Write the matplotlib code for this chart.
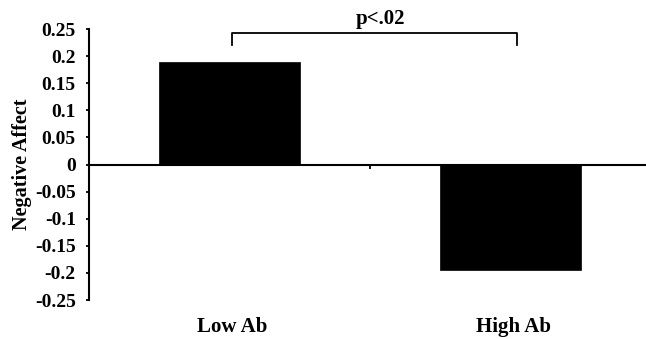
import matplotlib
matplotlib.use("Agg")
import matplotlib.pyplot as plt
import matplotlib.transforms as mtransforms

groups = ["Low Ab", "High Ab"]
neg_affect = [0.19, -0.195]
yticks = [0.25, 0.2, 0.15, 0.1, 0.05, 0, -0.05, -0.1, -0.15, -0.2, -0.25]
ytick_labels = ["0.25", "0.2", "0.15", "0.1", "0.05", "0", "-0.05", "-0.1", "-0.15", "-0.2", "-0.25"]
sig_text = "p<.02"

plt.rcParams['font.family'] = ['Liberation Serif', 'DejaVu Serif']
plt.rcParams['font.weight'] = 'bold'

fig = plt.figure(figsize=(6.46, 3.39), dpi=100)
ax = fig.add_axes([0.1378, 0.115, 0.8622, 0.7994])

x = list(range(len(groups)))
ax.bar(x, neg_affect, width=0.5, color='black', edgecolor='black', linewidth=0.5)

ax.set_xlim(-0.5, 1.482)
ax.set_ylim(-0.25, 0.25)

ax.spines['top'].set_visible(False)
ax.spines['right'].set_visible(False)
ax.spines['bottom'].set_position(('data', 0))
ax.spines['bottom'].set_linewidth(1.5)
ax.spines['left'].set_linewidth(1.5)

ax.set_yticks(yticks)
ax.set_yticklabels(ytick_labels, fontsize=14, fontweight='bold')
ax.tick_params(axis='y', direction='out', length=2.5, width=1.3, pad=7)

ax.set_xticks([0.5])
ax.set_xticklabels([''])
ax.tick_params(axis='x', direction='out', length=3, width=1.3)

# category labels at the bottom of the figure
trans = mtransforms.blended_transform_factory(ax.transData, fig.transFigure)
for xi, g in zip(x, groups):
    ax.text(xi + 0.01, 0.035, g, transform=trans, ha='center', va='center',
            fontsize=15, fontweight='bold', clip_on=False)

fig.text(0.034, 0.516, "Negative Affect", rotation=90, ha='center', va='center',
         fontsize=14.5, fontweight='bold')

# significance bracket
bx0, bx1 = x[0] + 0.01, x[1] + 0.023
by, bleg = 0.2426, 0.2205
ax.plot([bx0, bx0, bx1, bx1], [bleg, by, by, bleg], color='black', lw=1.3, clip_on=False)
ax.text(0.536, 0.268, sig_text, ha='center', va='center', fontsize=15,
        fontweight='bold', clip_on=False)

fig.savefig("out.png", dpi=100)
